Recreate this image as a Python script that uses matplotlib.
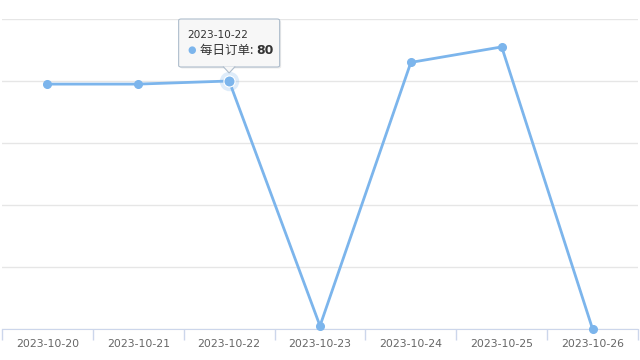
import matplotlib
matplotlib.use("Agg")
import matplotlib.pyplot as plt
from matplotlib.patches import FancyBboxPatch, Polygon

# data
dates = ["2023-10-20", "2023-10-21", "2023-10-22", "2023-10-23",
         "2023-10-24", "2023-10-25", "2023-10-26"]
orders = [79, 79, 80, 1, 86, 91, 0]
series_name = "每日订单"
hover_idx = 2  # point with tooltip shown

plt.rcParams['font.family'] = ['Noto Sans CJK SC', 'DejaVu Sans']

line_color = "#7cb5ec"

fig = plt.figure(figsize=(6.4, 3.6), dpi=100)
ax = fig.add_axes([2 / 640, 31 / 360, 636 / 640, 310 / 360])

x = list(range(len(dates)))
ax.set_xlim(-0.5, len(dates) - 0.5)
ax.set_ylim(0, 100)
ax.set_yticks(range(0, 101, 20))
ax.yaxis.grid(True, color="#e6e6e6", lw=1)
ax.tick_params(axis='y', left=False, labelleft=False)
ax.set_axisbelow(True)

ax.set_xticks(x)
ax.set_xticklabels(dates, color="#666666", fontsize=7.8, family='DejaVu Sans')
ax.set_xticks([i - 0.5 for i in range(len(dates) + 1)], minor=True)
ax.tick_params(axis='x', which='major', length=0, pad=7)
ax.tick_params(axis='x', which='minor', length=8, color="#ccd6eb", width=1)
for s in ['top', 'right', 'left']:
    ax.spines[s].set_visible(False)
ax.spines['bottom'].set_color("#ccd6eb")

ax.plot(x, orders, color=line_color, lw=2, marker='o', ms=5.5,
        zorder=3, clip_on=False)
# hovered point with halo
ax.plot(hover_idx, orders[hover_idx], 'o', ms=14, color=line_color,
        alpha=0.25, mec='none', zorder=4, clip_on=False)
ax.plot(hover_idx, orders[hover_idx], 'o', ms=8, color=line_color,
        mec='white', mew=0.8, zorder=5, clip_on=False)

# tooltip, placed relative to the hovered point
W, H = 640, 360
px, py = ax.transData.transform((hover_idx, orders[hover_idx]))
bw, bh = 101, 48
bx0 = px - bw / 2
by0 = py + 14
tip = py + 8


def f(xp, yp):
    return xp / W, yp / H


# shadow
shadow = FancyBboxPatch(f(bx0 + 1.5, by0 - 1.5), bw / W, bh / H,
                        boxstyle="round,pad=0,rounding_size=0.004",
                        transform=fig.transFigure, facecolor="#000000",
                        alpha=0.08, edgecolor='none', zorder=9)
fig.patches.append(shadow)
box = FancyBboxPatch(f(bx0, by0), bw / W, bh / H,
                     boxstyle="round,pad=0,rounding_size=0.004",
                     transform=fig.transFigure, facecolor="#f7f7f7",
                     edgecolor="#aebdcc", lw=0.8, zorder=10)
fig.patches.append(box)
pointer = Polygon([f(px - 6, by0 + 0.5), f(px, tip), f(px + 6, by0 + 0.5)],
                  closed=False, transform=fig.transFigure,
                  facecolor="#f7f7f7", edgecolor="#aebdcc", lw=0.8, zorder=11)
fig.patches.append(pointer)

fig.text(*f(bx0 + 9, by0 + bh - 16), dates[hover_idx], fontsize=7.6,
         color="#333333", va='center', ha='left', family='DejaVu Sans',
         zorder=12)
fig.text(*f(bx0 + 13, by0 + bh - 31), "●", fontsize=7, color=line_color,
         va='center', ha='center', family='DejaVu Sans', zorder=12)
t = fig.text(*f(bx0 + 21, by0 + bh - 31), series_name + ": ", fontsize=9,
             color="#333333", va='center', ha='left', zorder=12)
fig.canvas.draw()
bb = t.get_window_extent()
fig.text(bb.x1 / W, (by0 + bh - 31) / H, str(orders[hover_idx]), fontsize=9,
         color="#333333", fontweight='bold', va='center', ha='left',
         family='DejaVu Sans', zorder=12)

fig.savefig("out.png", dpi=100)
